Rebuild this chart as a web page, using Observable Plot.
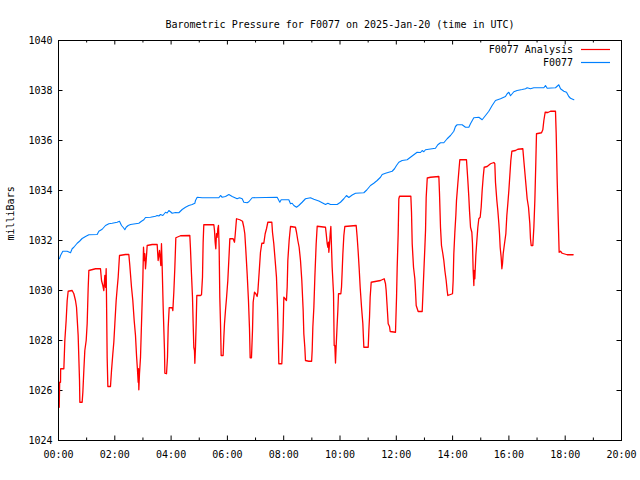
<!DOCTYPE html>
<html><head><meta charset="utf-8">
<script src="https://cdn.jsdelivr.net/npm/d3@7"></script>
<script src="https://cdn.jsdelivr.net/npm/@observablehq/plot@0.6"></script>
<style>body{margin:0;background:#fff} svg{display:block}</style>
</head><body><div id="chart"></div>
<script>
const title = "Barometric Pressure for F0077 on 2025-Jan-20 (time in UTC)";
const yLabel = "milliBars";
const seriesNames = ["F0077 Analysis", "F0077"];
const seriesColors = ["#ff0000", "#0080ff"];
const xTickHours = [0, 2, 4, 6, 8, 10, 12, 14, 16, 18, 20];
const xTickLabels = ["00:00", "02:00", "04:00", "06:00", "08:00", "10:00", "12:00", "14:00", "16:00", "18:00", "20:00"];
const xMinorHours = [1, 3, 5, 7, 9, 11, 13, 15, 17, 19];
const yTickValues = [1024, 1026, 1028, 1030, 1032, 1034, 1036, 1038, 1040];

// F0077 Analysis: minutes after 00:00 UTC and pressure (mbar)
const analysisMinutes = [1.5,2.5,4.3,4.6,11.4,13.5,16.3,18.5,20.6,29.1,32.7,36.2,38.4,41.9,44.8,45.5,50.4,51.9,54.0,56.1,59.0,61.1,63.2,64.7,78.9,89.5,91.7,94.5,96.6,98.8,100.2,101.6,102.3,103.7,105.2,110.8,113.0,115.8,117.9,120.1,122.9,125.0,127.2,130.0,142.8,149.9,152.0,155.6,158.4,161.3,164.1,166.3,168.4,169.8,170.5,171.2,172.6,174.8,176.9,179.8,181.2,182.6,184.0,185.4,186.9,189.0,199.7,210.3,212.4,215.3,218.1,219.5,221.0,223.1,225.9,226.7,230.2,232.3,233.8,235.9,242.3,243.7,245.8,248.0,250.1,260.0,279.9,281.3,283.4,285.6,287.0,288.4,289.8,290.6,292.0,293.4,294.8,302.6,304.8,306.9,308.3,309.7,331.1,332.5,333.9,335.3,336.7,338.2,339.6,341.0,342.4,343.8,345.3,346.7,350.9,352.4,353.8,355.9,358.0,360.9,363.7,365.2,372.3,375.1,376.5,379.4,386.5,392.2,395.0,397.1,399.3,402.1,404.9,407.1,408.5,411.3,413.5,414.9,417.7,420.6,423.4,424.8,427.7,430.5,433.4,437.6,440.5,443.3,446.2,454.7,456.1,458.9,461.8,464.6,466.8,468.2,469.6,476.0,477.4,478.8,480.3,483.1,485.9,487.4,488.8,491.6,494.5,505.1,507.3,510.1,512.9,515.8,518.6,521.5,522.9,525.0,526.4,533.5,539.5,540.7,542.1,544.3,546.4,549.2,551.4,569.1,570.6,572.7,574.1,575.5,576.2,577.7,579.1,580.5,581.9,583.3,586.2,587.6,589.0,590.4,591.9,594.0,595.4,596.8,601.8,603.2,604.7,606.1,608.2,610.3,634.5,636.6,638.8,640.9,643.0,645.9,648.7,650.8,660.1,661.5,662.9,664.3,666.5,686.4,694.2,697.0,698.4,700.6,702.7,705.5,707.0,718.3,720.5,721.9,724.0,725.4,726.9,751.0,752.4,753.9,756.7,759.5,760.9,762.4,766.6,775.2,776.6,779.4,780.9,782.3,783.7,786.0,792.9,810.7,812.1,814.2,816.3,819.2,821.3,823.5,826.3,828.4,829.8,839.8,841.2,842.6,844.8,846.9,848.3,851.2,854.0,855.4,869.6,871.1,872.5,874.6,876.0,878.2,881.0,882.4,883.8,885.3,886.0,887.4,889.5,891.7,893.8,895.9,898.8,900.9,903.0,905.2,907.3,913.7,920.8,927.9,930.0,931.4,934.3,936.4,938.6,940.0,941.4,943.5,945.0,946.4,947.8,950.6,953.5,955.6,957.7,959.9,962.0,964.1,966.3,974.1,979.0,989.7,991.8,994.0,996.8,998.9,1001.8,1004.6,1006.0,1007.5,1011.0,1013.2,1015.3,1017.4,1018.8,1029.5,1032.3,1034.5,1037.3,1043.0,1048.7,1059.3,1060.8,1062.9,1065.7,1067.1,1069.9,1073.5,1077.1,1084.2,1096.9];
const analysisValues = [1025.33,1026.33,1026.33,1026.87,1026.87,1028.0,1028.8,1029.6,1029.97,1030.0,1029.87,1029.6,1029.33,1028.2,1026.4,1025.53,1025.53,1025.93,1026.8,1027.6,1028.0,1028.67,1030.07,1030.8,1030.87,1030.87,1030.4,1030.2,1030.0,1030.6,1030.13,1030.87,1029.73,1027.33,1026.16,1026.16,1026.8,1027.47,1027.93,1028.67,1029.6,1030.07,1030.53,1031.4,1031.44,1031.44,1031.0,1030.13,1029.6,1028.8,1028.2,1027.4,1026.8,1026.33,1026.87,1026.03,1026.67,1027.33,1028.67,1030.47,1031.73,1031.2,1031.47,1030.87,1031.2,1031.8,1031.84,1031.84,1031.2,1031.6,1031.0,1031.87,1030.93,1029.33,1027.6,1026.69,1026.67,1027.33,1028.53,1029.31,1029.31,1029.2,1029.93,1030.93,1032.11,1032.19,1032.2,1031.67,1030.67,1029.73,1028.67,1027.73,1027.6,1027.09,1027.73,1028.67,1029.8,1029.8,1029.83,1030.53,1031.93,1032.63,1032.63,1032.4,1031.93,1031.67,1032.27,1032.13,1032.47,1032.6,1031.73,1029.73,1028.67,1027.4,1027.4,1028.13,1028.67,1029.2,1029.67,1030.4,1031.47,1032.07,1032.07,1031.93,1032.2,1032.87,1032.83,1032.77,1032.53,1032.27,1031.6,1030.67,1029.6,1028.47,1027.31,1027.31,1028.4,1029.53,1029.93,1029.87,1029.76,1029.93,1030.73,1031.53,1031.89,1031.89,1032.27,1032.47,1032.73,1032.73,1032.33,1031.87,1031.2,1030.53,1029.33,1028.27,1027.07,1027.07,1027.73,1028.53,1029.73,1029.67,1029.6,1030.13,1031.2,1032.0,1032.56,1032.53,1032.33,1032.0,1031.73,1031.2,1030.4,1029.2,1028.27,1027.73,1027.2,1027.17,1027.17,1027.6,1028.53,1029.33,1030.53,1031.87,1032.57,1032.53,1032.27,1031.87,1031.73,1031.93,1031.53,1031.87,1032.27,1032.56,1031.73,1030.93,1029.87,1027.8,1027.8,1027.1,1027.8,1028.67,1029.2,1029.87,1029.87,1030.13,1030.8,1031.47,1032.2,1032.56,1032.6,1032.13,1031.53,1030.87,1030.13,1029.33,1028.67,1027.73,1027.73,1028.4,1028.93,1029.73,1030.33,1030.4,1030.47,1030.27,1030.0,1029.33,1028.67,1028.56,1028.36,1028.33,1029.73,1030.93,1032.27,1033.67,1033.77,1033.77,1033.13,1031.87,1030.93,1030.47,1030.0,1029.4,1029.16,1029.16,1029.8,1031.07,1031.73,1032.4,1033.73,1034.5,1034.53,1034.56,1033.87,1032.53,1031.8,1031.47,1031.2,1030.8,1030.4,1030.0,1029.8,1029.87,1030.4,1031.47,1032.33,1033.0,1033.6,1034.29,1034.93,1035.23,1035.23,1034.8,1034.4,1033.73,1033.2,1032.53,1032.33,1031.87,1030.8,1030.2,1030.8,1030.47,1031.4,1032.0,1032.53,1032.87,1032.93,1033.33,1034.0,1034.53,1034.93,1034.96,1035.07,1035.12,1035.07,1034.33,1033.6,1033.2,1032.67,1032.27,1031.73,1031.33,1030.87,1031.07,1031.47,1031.87,1032.27,1033.0,1033.47,1034.0,1034.6,1035.2,1035.57,1035.6,1035.65,1035.67,1035.2,1034.73,1034.13,1033.67,1033.33,1032.67,1032.07,1031.8,1031.8,1032.53,1033.6,1035.13,1036.27,1036.31,1036.43,1036.8,1037.13,1037.12,1037.17,1037.17,1036.27,1034.4,1032.47,1031.53,1031.57,1031.49,1031.47,1031.43,1031.43];

// F0077 observed: minutes after 00:00 UTC and pressure (mbar)
const observedMinutes = [2,4.3,9.2,18.5,25.6,29.1,32.7,39.8,44.8,50.4,57.6,64.7,82.4,86.0,93.1,100.2,107.3,114.4,125.0,130.0,134.3,138.5,141.4,144.2,148.5,153.5,164.1,171.2,176.9,181.9,185.4,196.1,206.8,210.3,213.9,217.4,222.4,228.1,231.6,235.2,238.7,242.3,249.4,256.5,263.6,270.7,277.8,284.9,290.6,292.0,295.6,306.2,341.8,345.3,348.9,356.0,363.1,370.2,380.8,385.8,391.5,395.0,402.1,405.7,412.8,466.1,471.7,474.6,490.9,494.5,498.0,501.6,507.3,512.2,519.3,526.4,537.1,544.2,554.9,562.0,569.1,574.1,579.7,593.9,601.0,608.2,613.8,618.8,626.0,633.1,650.8,657,665.0,672,679.2,686.3,689.9,697.0,704.1,711.2,716.2,720.4,725.4,732.5,743.1,750.2,757.3,764.4,771.6,775.1,778.7,782.2,792.8,803.5,808.5,814.2,821.3,828.4,835.5,842.6,846.1,849.7,860.3,867.5,874.6,878.1,885.2,895.9,903.0,910.1,917.2,924.3,931.4,942.1,952.7,956.3,959.9,963.4,967.0,970.5,977.6,988.3,995.4,998.9,1006.0,1013.1,1034.5,1038.0,1041.6,1059.3,1066.4,1070.0,1077.1,1082.8,1087.7,1091.3,1098.4];
const observedValues = [1031.27,1031.4,1031.57,1031.57,1031.51,1031.67,1031.73,1031.89,1031.97,1032.08,1032.16,1032.23,1032.24,1032.37,1032.45,1032.6,1032.67,1032.69,1032.73,1032.77,1032.6,1032.51,1032.43,1032.53,1032.6,1032.64,1032.67,1032.69,1032.77,1032.83,1032.92,1032.93,1032.97,1033.0,1032.98,1033.04,1033.0,1033.13,1033.1,1033.2,1033.15,1033.09,1033.12,1033.11,1033.24,1033.33,1033.4,1033.44,1033.49,1033.6,1033.73,1033.71,1033.71,1033.8,1033.73,1033.76,1033.84,1033.76,1033.67,1033.71,1033.67,1033.53,1033.51,1033.55,1033.71,1033.73,1033.53,1033.63,1033.63,1033.47,1033.49,1033.4,1033.33,1033.4,1033.53,1033.67,1033.71,1033.65,1033.58,1033.51,1033.44,1033.49,1033.44,1033.44,1033.53,1033.67,1033.8,1033.72,1033.82,1033.89,1033.91,1034.02,1034.2,1034.29,1034.4,1034.53,1034.64,1034.69,1034.73,1034.77,1034.87,1035.0,1035.13,1035.2,1035.23,1035.33,1035.43,1035.53,1035.52,1035.6,1035.55,1035.63,1035.66,1035.69,1035.83,1035.91,1035.91,1036.07,1036.2,1036.37,1036.56,1036.63,1036.63,1036.53,1036.53,1036.67,1036.91,1036.93,1036.83,1037.0,1037.17,1037.4,1037.6,1037.67,1037.76,1037.87,1037.93,1037.79,1037.87,1037.95,1038.0,1038.04,1038.07,1038.11,1038.07,1038.11,1038.11,1038.2,1038.09,1038.11,1038.23,1038.07,1037.97,1037.93,1037.76,1037.69,1037.63];

const analysis = analysisMinutes.map((m, i) => ({h: m / 60, v: analysisValues[i]}));
const observed = observedMinutes.map((m, i) => ({h: m / 60, v: observedValues[i]}));

const W = 640, H = 480, mL = 58, mR = 19, mT = 40, mB = 40;
const plotW = W - mL - mR, plotH = H - mT - mB;
const font = "'DejaVu Sans Mono', monospace";
const majorLen = 4.5, minorLen = 2.5;

const chart = Plot.plot({
  width: W, height: H,
  marginLeft: mL, marginRight: mR, marginTop: mT, marginBottom: mB,
  style: {fontFamily: font, fontSize: "10px", background: "white", color: "black", overflow: "visible"},
  x: {domain: [0, 20]},
  y: {domain: [1024, 1040]},
  marks: [
    // inward tick marks on all four sides
    Plot.tickX(xTickHours, {x: d => d, insetTop: plotH - majorLen, stroke: "black"}),
    Plot.tickX(xMinorHours, {x: d => d, insetTop: plotH - minorLen, stroke: "black"}),
    Plot.tickX(xTickHours, {x: d => d, insetBottom: plotH - majorLen, stroke: "black"}),
    Plot.tickX(xMinorHours, {x: d => d, insetBottom: plotH - minorLen, stroke: "black"}),
    Plot.tickY(yTickValues, {y: d => d, insetRight: plotW - majorLen, stroke: "black"}),
    Plot.tickY(yTickValues, {y: d => d, insetLeft: plotW - majorLen, stroke: "black"}),
    Plot.line(analysis, {x: "h", y: "v", stroke: seriesColors[0], strokeWidth: 1.3}),
    Plot.line(observed, {x: "h", y: "v", stroke: seriesColors[1], strokeWidth: 1.1}),
    Plot.frame({stroke: "black", strokeWidth: 1}),
    Plot.axisX(xTickHours, {anchor: "bottom", tickSize: 0, tickPadding: 10, label: null,
      tickFormat: d => xTickLabels[xTickHours.indexOf(d)]}),
    Plot.axisY(yTickValues, {anchor: "left", tickSize: 0, tickPadding: 6, label: null,
      tickFormat: d => String(d)}),
    Plot.text([yLabel], {frameAnchor: "left", rotate: -90, dx: -48, fill: "black"}),
    Plot.text([title], {frameAnchor: "top", dy: -20, fill: "black"})
  ]
});

const svg = d3.select(chart);
const legend = svg.append("g").attr("font-family", font).attr("font-size", 10);
seriesNames.forEach((name, i) => {
  const yc = 49.5 + i * 13;
  legend.append("text").attr("x", 573).attr("y", yc).attr("dy", "0.35em")
    .attr("text-anchor", "end").attr("fill", "black").text(name);
  legend.append("line").attr("x1", 581).attr("x2", 610).attr("y1", yc).attr("y2", yc)
    .attr("stroke", seriesColors[i]).attr("stroke-width", 1.2);
});
document.getElementById("chart").appendChild(chart);
</script>
</body></html>
